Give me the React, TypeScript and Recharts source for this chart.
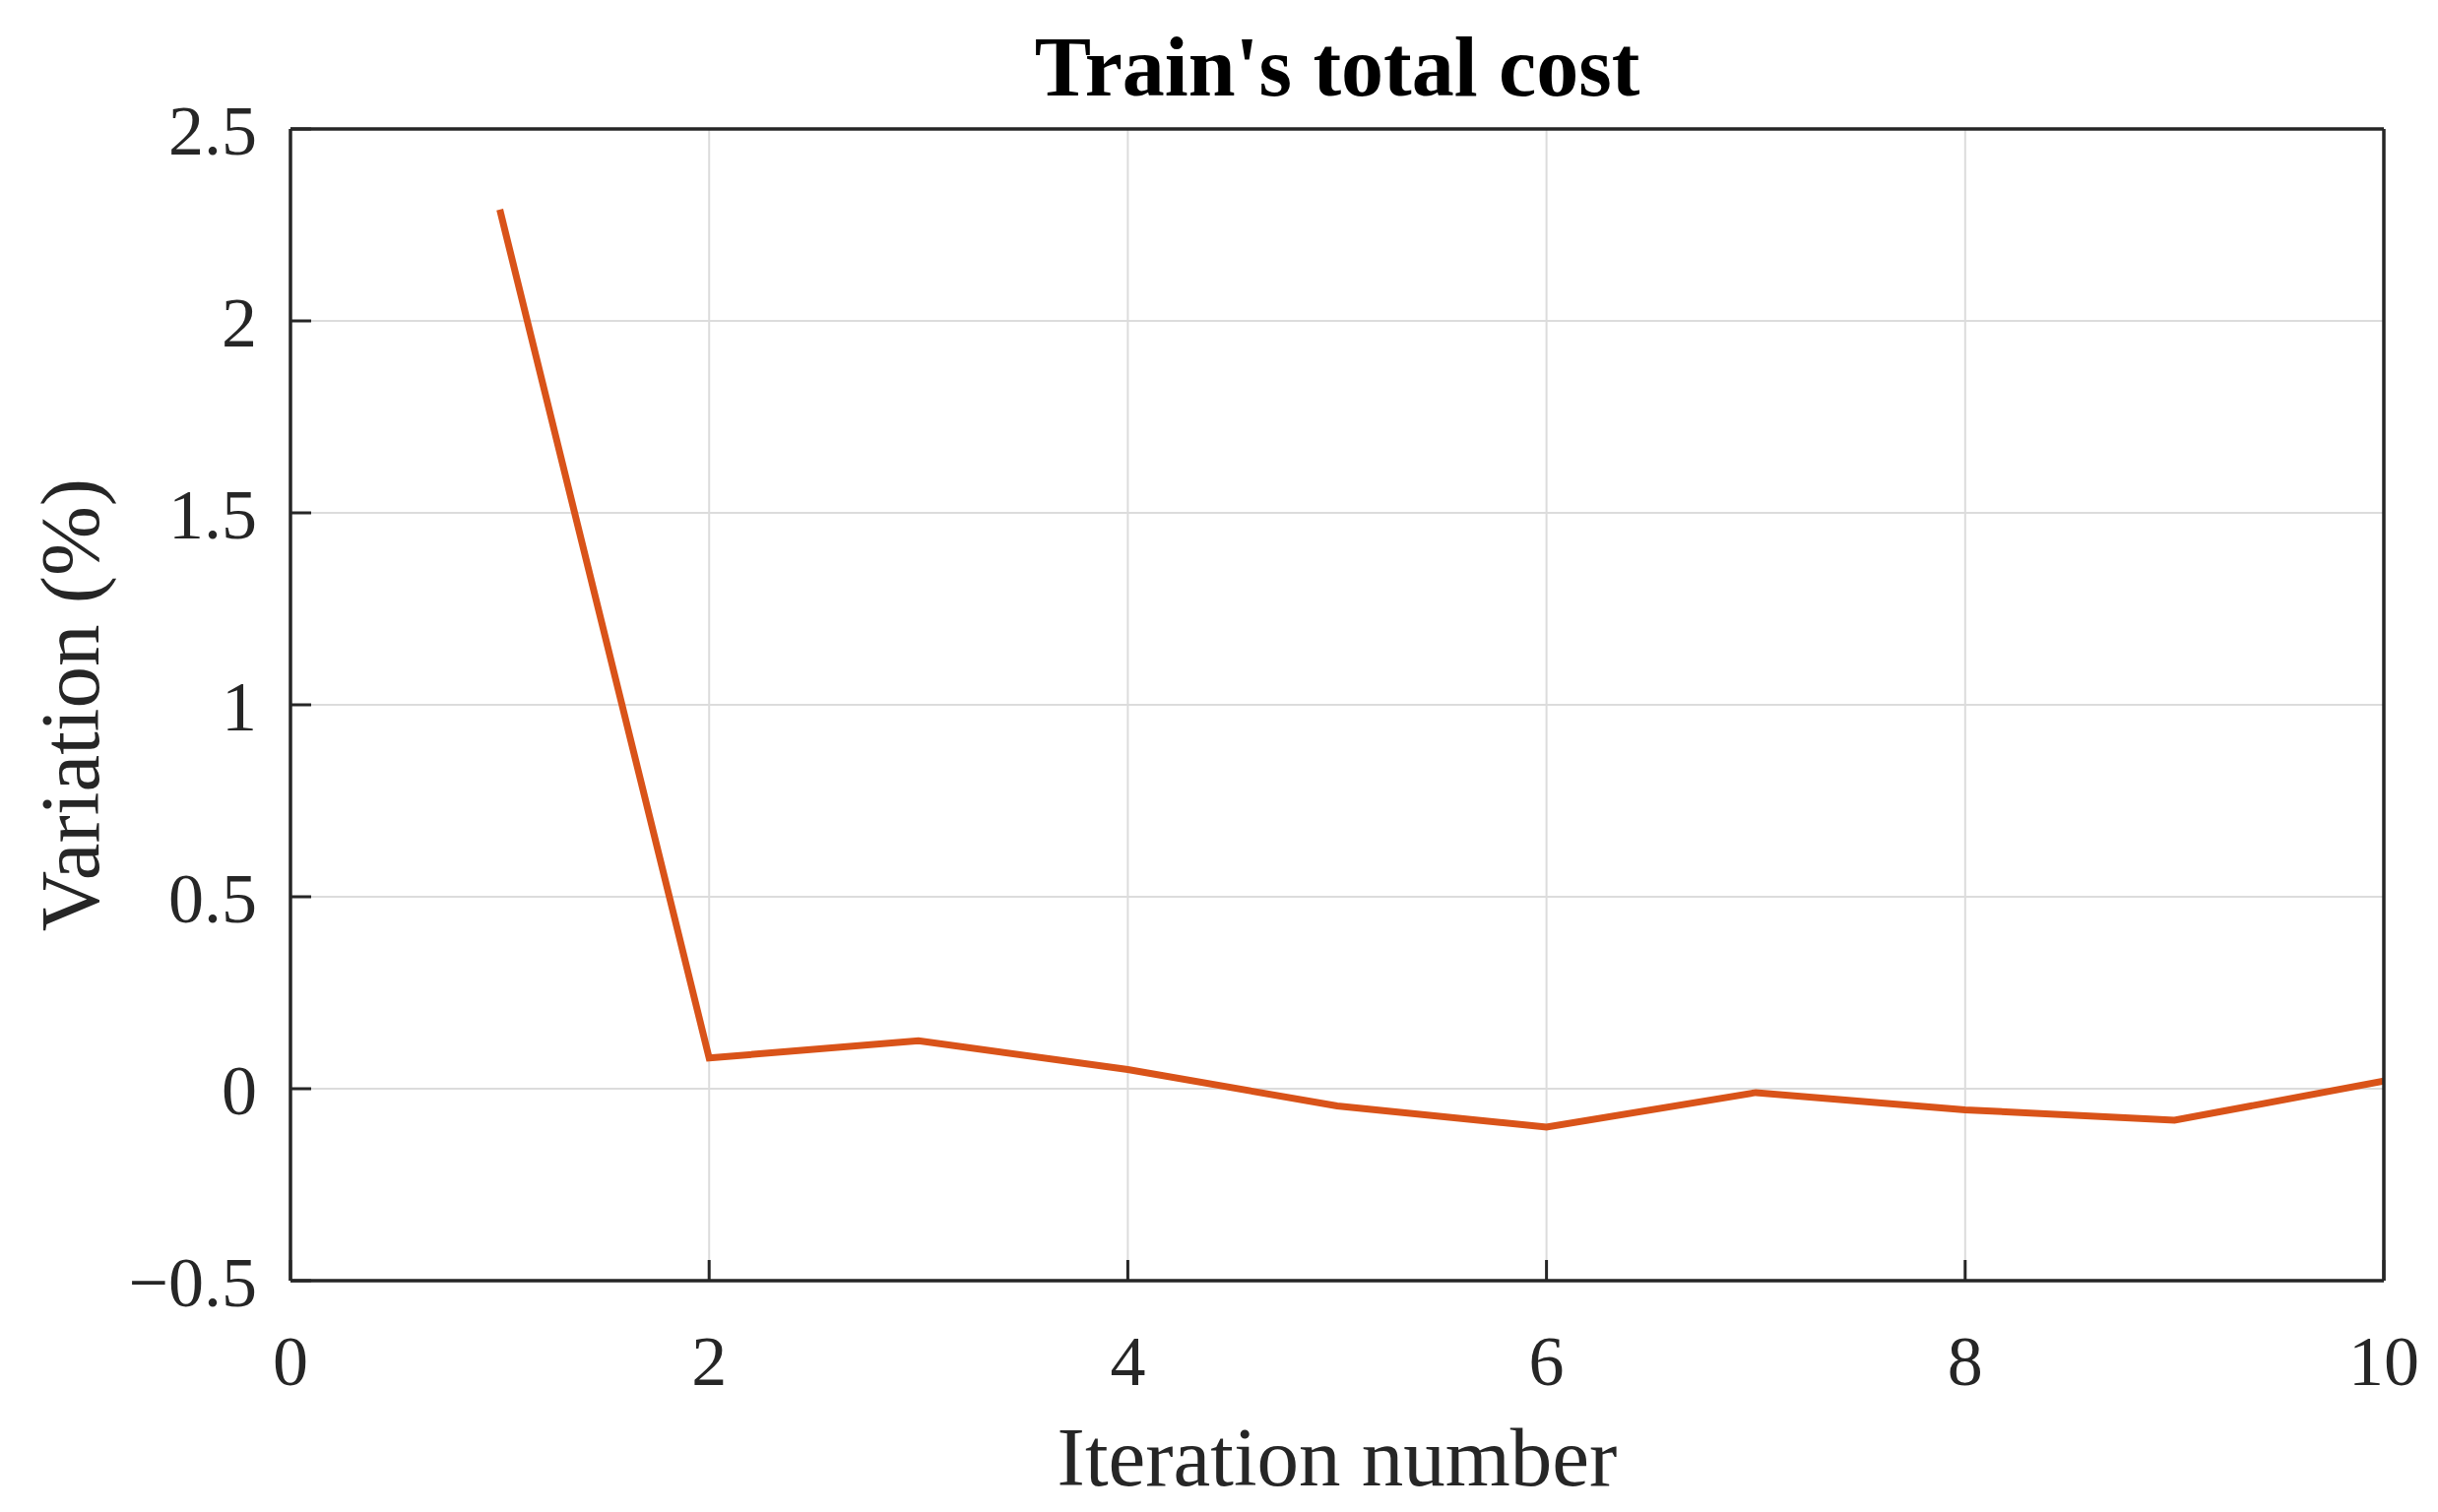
import React from 'react';
import { LineChart, Line, XAxis, YAxis, CartesianGrid } from 'recharts';

const iterations = [1, 2, 3, 4, 5, 6, 7, 8, 9, 10];
const variation = [2.29, 0.08, 0.125, 0.05, -0.045, -0.1, -0.01, -0.055, -0.082, 0.02];

const xTicks = [0, 2, 4, 6, 8, 10];
const xTickLabels = ['0', '2', '4', '6', '8', '10'];
const yTicks = [-0.5, 0, 0.5, 1, 1.5, 2, 2.5];
const yTickLabels = ['\u22120.5', '0', '0.5', '1', '1.5', '2', '2.5'];

const titleText = "Train's total cost";
const xLabelText = 'Iteration number';
const yLabelText = 'Variation (%)';

const data = iterations.map((it, i) => ({ iter: it, value: variation[i] }));

const W = 2476;
const H = 1536;
const FONT = '"Liberation Serif", "Times New Roman", serif';
const AXIS_COLOR = '#262626';
const TICK_LEN = 21;

const tickStyle = { fontFamily: FONT, fontSize: 72, fill: AXIS_COLOR };

const fmtX = (v: number) => {
  const i = xTicks.indexOf(v);
  return i >= 0 ? xTickLabels[i] : String(v);
};
const fmtY = (v: number) => {
  const i = yTicks.indexOf(v);
  return i >= 0 ? yTickLabels[i] : String(v);
};

const axisLineStyle = { stroke: AXIS_COLOR, strokeWidth: 3.5 };
const tickLineStyle = { stroke: AXIS_COLOR, strokeWidth: 3 };

export default function App() {
  return (
    <div style={{ position: 'absolute', left: 0, top: 0, width: W, height: H, background: '#fff' }}>
      <LineChart
        width={W}
        height={H}
        data={data}
        margin={{ top: 130, right: 54, bottom: 115, left: 95 }}
      >
        <CartesianGrid stroke="#dcdcdc" strokeWidth={2} />
        <XAxis
          dataKey="iter"
          type="number"
          domain={[0, 10]}
          ticks={xTicks}
          tickFormatter={fmtX}
          height={120}
          tickSize={-TICK_LEN}
          tickMargin={70 + TICK_LEN - 15}
          axisLine={axisLineStyle}
          tickLine={tickLineStyle}
          tick={tickStyle}
          allowDataOverflow
        />
        <XAxis
          xAxisId="top"
          orientation="top"
          dataKey="iter"
          type="number"
          domain={[0, 10]}
          ticks={xTicks}
          height={1}
          tickSize={-TICK_LEN}
          axisLine={axisLineStyle}
          tickLine={tickLineStyle}
          tick={false}
        />
        <YAxis
          type="number"
          domain={[-0.5, 2.5]}
          ticks={yTicks}
          tickFormatter={fmtY}
          width={200}
          tickSize={-TICK_LEN}
          tickMargin={49 + TICK_LEN - 15}
          axisLine={axisLineStyle}
          tickLine={tickLineStyle}
          tick={tickStyle}
          allowDataOverflow
        />
        <YAxis
          yAxisId="right"
          orientation="right"
          type="number"
          domain={[-0.5, 2.5]}
          ticks={yTicks}
          width={1}
          tickSize={-TICK_LEN}
          axisLine={axisLineStyle}
          tickLine={tickLineStyle}
          tick={false}
        />
        <Line
          type="linear"
          dataKey="value"
          stroke="#D95319"
          strokeWidth={7}
          dot={false}
          activeDot={false}
          isAnimationActive={false}
        />
      </LineChart>
      <svg
        width={W}
        height={H}
        style={{ position: 'absolute', left: 0, top: 0, pointerEvents: 'none' }}
      >
        <text x={1358} y={97} textAnchor="middle" fontFamily={FONT} fontWeight="bold" fontSize={86} fill="#000">
          {titleText}
        </text>
        <text x={1358} y={1509} textAnchor="middle" fontFamily={FONT} fontSize={85} fill={AXIS_COLOR}>
          {xLabelText}
        </text>
        <text
          x={0}
          y={0}
          transform="translate(100,716) rotate(-90)"
          textAnchor="middle"
          fontFamily={FONT}
          fontSize={85}
          fill={AXIS_COLOR}
        >
          {yLabelText}
        </text>
      </svg>
    </div>
  );
}
